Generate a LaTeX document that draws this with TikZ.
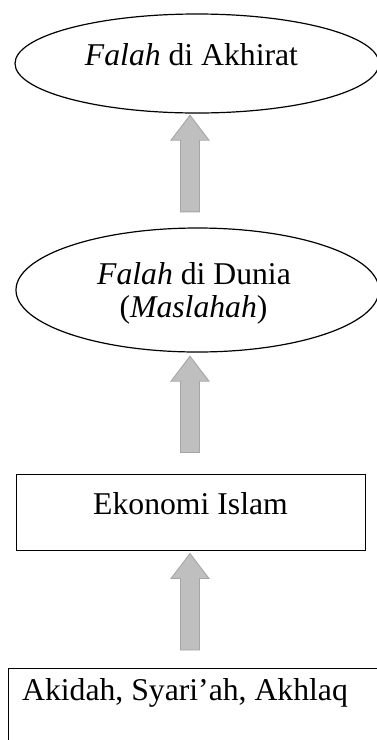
\documentclass[tikz,border=0pt]{standalone}
\usepackage{fontspec}
\setmainfont{Liberation Serif}
\usetikzlibrary{shapes.geometric,calc}
\definecolor{arrowfill}{HTML}{BFBFBF}
\definecolor{arrowedge}{HTML}{A6A6A6}
\newcommand\blockup[2]{\draw[blockarrow] (#1) -- ++(19,25) -- ++(-9.5,0) |- ($(#2)+(9.5,0)$) -- ++(-19,0) |- ($(#1)+(-9.5,25)$) -- ++(-9.5,0) -- cycle;}
\begin{document}
\begin{tikzpicture}[x=1pt,y=-1pt,
  every node/.style={font=\fontsize{31.7}{38}\selectfont},
  oval/.style={ellipse, inner sep=0pt},
  ovalline/.style={draw, line width=1.2pt},
  box/.style={draw, line width=1pt, rectangle, inner sep=0pt},
  txt/.style={anchor=base, inner sep=0pt},
  blockarrow/.style={fill=arrowfill, draw=arrowedge, line width=0.9pt, line join=miter}]
\clip (0,0) rectangle (377,740);
% shapes
\node[oval, minimum width=364pt, minimum height=99pt] (e1) at (197,63.5) {};
\node[oval, minimum width=363pt, minimum height=124pt] (e2) at (197.5,290) {};
\draw[ovalline] (e1.center) ellipse [x radius=182, y radius=49.5];
\draw[ovalline] (e2.center) ellipse [x radius=181.5, y radius=62];
\node[box, minimum width=349pt, minimum height=76pt] (r1) at (190.5,512) {};
\node[box, minimum width=380pt, minimum height=100pt, anchor=north west] (r2) at (8,668) {};
% texts
\node[txt] (t1) at (191.5,65) {\textit{Falah} di Akhirat};
\node[txt] (t2a) at (194,284) {\textit{Falah} di Dunia};
\node[txt] (t2b) at (193.5,317) {(\textit{Maslahah})};
\node[txt] (t3) at (190.5,514) {Ekonomi Islam};
\node[txt] (t4) at (185,700) {Akidah, Syari’ah, Akhlaq};
% arrows
\coordinate (a1t) at ($(e1.south)+(-7,2)$);
\coordinate (a1b) at ($(e2.north)+(-7.5,-16)$);
\coordinate (a2t) at ($(e2.south)+(-7.5,4)$);
\coordinate (a2b) at ($(r1.north)+(-0.5,-21)$);
\coordinate (a3t) at ($(r1.south)+(-0.5,3)$);
\coordinate (a3b) at ($(r2.north west)+(182,-18)$);
\blockup{a1t}{a1b}
\blockup{a2t}{a2b}
\blockup{a3t}{a3b}
\end{tikzpicture}
\end{document}
